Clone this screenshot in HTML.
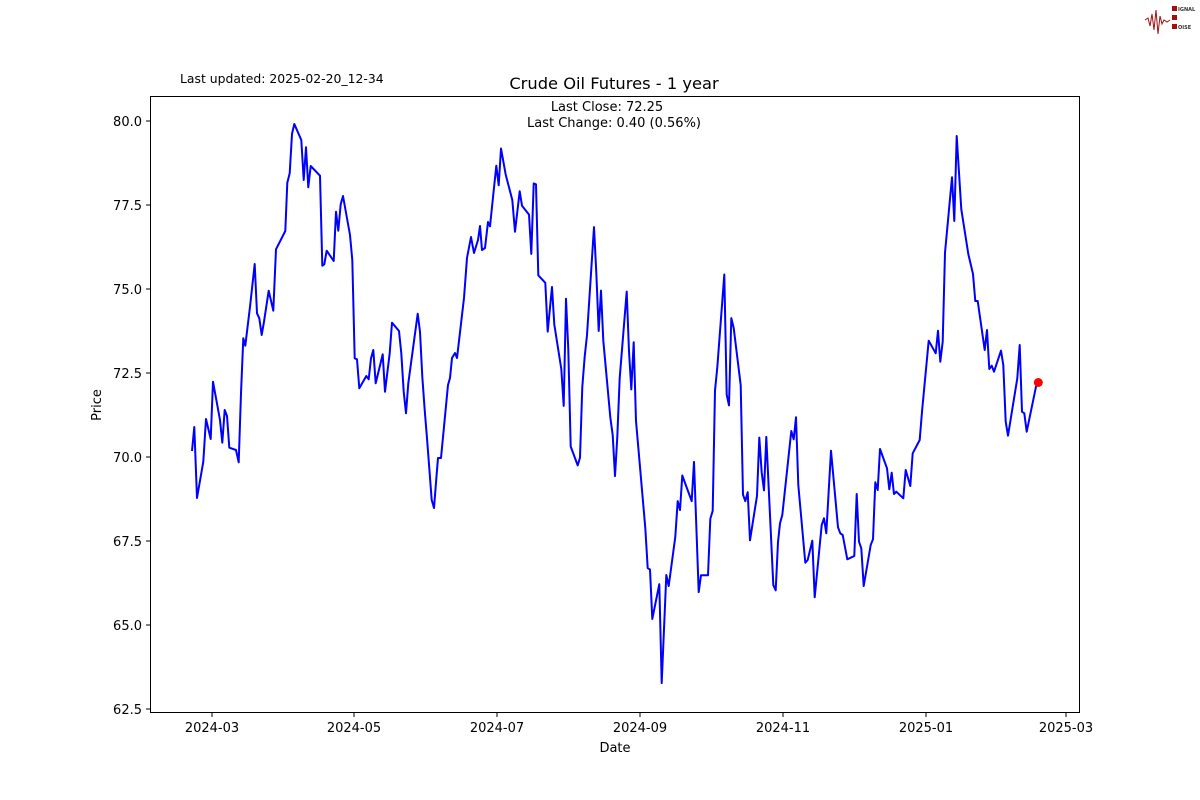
<!DOCTYPE html>
<html><head><meta charset="utf-8"><style>html,body{margin:0;padding:0;background:#fff}svg{display:block}</style></head>
<body>
<svg width="1200" height="800" viewBox="0 0 1200 800" xmlns="http://www.w3.org/2000/svg" font-family="'DejaVu Sans','Liberation Sans',sans-serif">
<rect width="1200" height="800" fill="#fff"/>
<g>
<polyline points="1145,20 1148,18 1150,26 1152,14 1154,30 1156,10 1158,34 1160,16 1162,24 1164,20 1167,22 1170,20" fill="none" stroke="#a01010" stroke-width="1"/>
<rect x="1172" y="6" width="5" height="5" fill="#a01010"/><rect x="1172" y="15" width="5" height="5" fill="#a01010"/><rect x="1172" y="24" width="5" height="5" fill="#a01010"/>
<text x="1178" y="11" font-size="5" font-weight="bold" fill="#333">IGNAL</text>
<text x="1178" y="29" font-size="5" font-weight="bold" fill="#333">OISE</text>
</g>
<text x="180" y="83" font-size="12.4" fill="#000">Last updated: 2025-02-20_12-34</text>
<text x="614" y="89" font-size="16.3" text-anchor="middle" fill="#000">Crude Oil Futures - 1 year</text>
<text x="607" y="111" font-size="13" text-anchor="middle" fill="#000">Last Close: 72.25</text>
<text x="614" y="127" font-size="13" text-anchor="middle" fill="#000">Last Change: 0.40 (0.56%)</text>
<rect x="150.5" y="96.5" width="929" height="616" fill="none" stroke="#000" stroke-width="1"/>
<g stroke="#000" stroke-width="1">
<line x1="150" y1="121" x2="146" y2="121"/><line x1="150" y1="205" x2="146" y2="205"/><line x1="150" y1="289" x2="146" y2="289"/><line x1="150" y1="373" x2="146" y2="373"/><line x1="150" y1="457" x2="146" y2="457"/><line x1="150" y1="541" x2="146" y2="541"/><line x1="150" y1="625" x2="146" y2="625"/><line x1="150" y1="709" x2="146" y2="709"/>
<line x1="212" y1="713" x2="212" y2="717"/><line x1="354" y1="713" x2="354" y2="717"/><line x1="497" y1="713" x2="497" y2="717"/><line x1="640" y1="713" x2="640" y2="717"/><line x1="783" y1="713" x2="783" y2="717"/><line x1="926" y1="713" x2="926" y2="717"/><line x1="1066" y1="713" x2="1066" y2="717"/>
</g>
<g font-size="13" text-anchor="end" fill="#000">
<text x="142" y="126">80.0</text><text x="142" y="210">77.5</text><text x="142" y="294">75.0</text><text x="142" y="378">72.5</text><text x="142" y="462">70.0</text><text x="142" y="546">67.5</text><text x="142" y="630">65.0</text><text x="142" y="714">62.5</text>
</g>
<g font-size="13" text-anchor="middle" fill="#000">
<text x="212" y="732">2024-03</text><text x="354" y="732">2024-05</text><text x="497" y="732">2024-07</text><text x="640" y="732">2024-09</text><text x="783" y="732">2024-11</text><text x="926" y="732">2025-01</text><text x="1066" y="732">2025-03</text>
</g>
<text x="615" y="752" font-size="13" text-anchor="middle" fill="#000">Date</text>
<text transform="translate(101,405) rotate(-90)" font-size="13" text-anchor="middle" fill="#000">Price</text>
<polyline fill="none" stroke="#0000ff" stroke-width="2" stroke-linejoin="round" points="
192,451 194.3,427 197,498 203.3,461.7 206,419 210.7,439 213,381.7 220,420 222.3,442.7 224.7,410 227,416 229.3,447.7 236,450 238.7,462.3 241,393.3 243.3,338.3 245.3,345.7 250,306.7 254.7,264 257,313.3 259.3,318.3 261.7,335 264,321.7 268.7,290.7 273.3,310.7 276,249.3 285.3,231 287.3,182.7 289.7,173.3 292,134 294.3,124 301.3,140 303.7,180 306,147.3 308.3,187.3 310.7,166 320,175.7 322.3,265.7 324.3,264.3 326.7,250.7 333.7,261 336,211.7 338.3,230.7 340.7,204.3 343,196 350,235 352.3,260 354.7,358.3 357,359.3 359.3,388.3 366.3,376 368.7,379.3 371,358.3 373.3,350 375.7,383.3 382.7,354.3 385,391.7 389.7,353.3 392,322.7 399,331 401.3,353.3 403.7,391.7 406,413.3 408.3,383.3 417.7,313.7 420,331.7 422.3,376.7 424.7,410 427,438.3 429.3,468.3 431.7,500 434,508 437,470 438,458 441,458 448,385 450,378 452,358 455,353 457,358 464,298 467,258 471,237 474,253 478,240 480,226 482,250 485,248 488,222 490,226.3 496.3,165.7 498.7,185.3 501,148.5 505.7,174.6 512.3,200 515,231.7 519.7,191.3 522,205.7 529,214.6 531.3,253.9 533.7,183.5 536,184.3 538.3,275.3 545.3,282.8 547.7,331.6 552,287 554.3,324.5 561.3,369 563.7,405.9 566,298.8 568.3,349.5 570.7,446.5 577.7,465.4 580,457.6 582.3,386.9 584.7,356.6 587,335.2 594,227.1 596.3,272.7 598.7,330.9 601,290.6 603.3,340.6 610.3,417.2 612.7,435.1 615,476.1 617.3,436.9 619.7,378 626.7,291.6 629,351.3 631.3,389.4 633.7,342.3 636,420.9 645.3,528 647.7,568.1 650,569.5 652.3,618.9 659.3,584.2 661.7,683.1 666.3,575 668.7,586 675.3,536.8 677.7,501.1 680,510 682.3,475.5 691.7,501.1 694,461.9 698.7,592.1 701,575.3 708,575.3 710.3,518.9 712.7,510.8 715,390.5 717.3,367.3 724.3,274.5 726.7,394.7 729,405.4 731.3,318.1 733.7,328 740.7,385.1 743,494.7 745.3,501.1 747.7,492.2 750,540.3 757,495.8 759.3,437.6 761.7,472.5 764,490.4 766.3,436.9 773.3,585.1 775.7,590.3 778,542.1 780,523.3 782.3,515 791.3,431 793.7,439.3 796,417.3 798.3,485 805.3,562.7 807.7,560 812.3,540.7 814.7,597.3 821.7,525 824,518.3 826.3,533.3 831,450.7 838,527.3 840.3,533.3 842.7,535 847.3,559.3 854.3,556 856.7,494 859,541.7 861.3,548.3 863.7,586 870.7,545 873,539.3 875.3,482.3 877.7,490 880,449 887,468.3 889.3,489.3 891.7,472.7 894,494 896.3,491.7 903.3,498.3 905.7,470 910.3,486 912.7,453.3 919.7,440 922,411.7 928.7,340.7 935.7,353.3 938,330.7 940.3,361.7 942.7,341.7 945,252.7 952,177.3 954.3,221 956.7,136 961.3,209.3 968.3,254 973,274 975.3,301 977.7,301 984.7,350 987,330 989.3,369 991.7,365.7 994,371.7 1001,350.7 1003.3,365 1005.7,421.7 1008,435.7 1017.3,378.3 1019.7,345 1022,411.7 1024.3,413.3 1026.7,431.7 1036,386.7 1038.3,382.7"/>
<circle cx="1038.3" cy="382.5" r="4.5" fill="#ff0000"/>
</svg>
</body></html>
